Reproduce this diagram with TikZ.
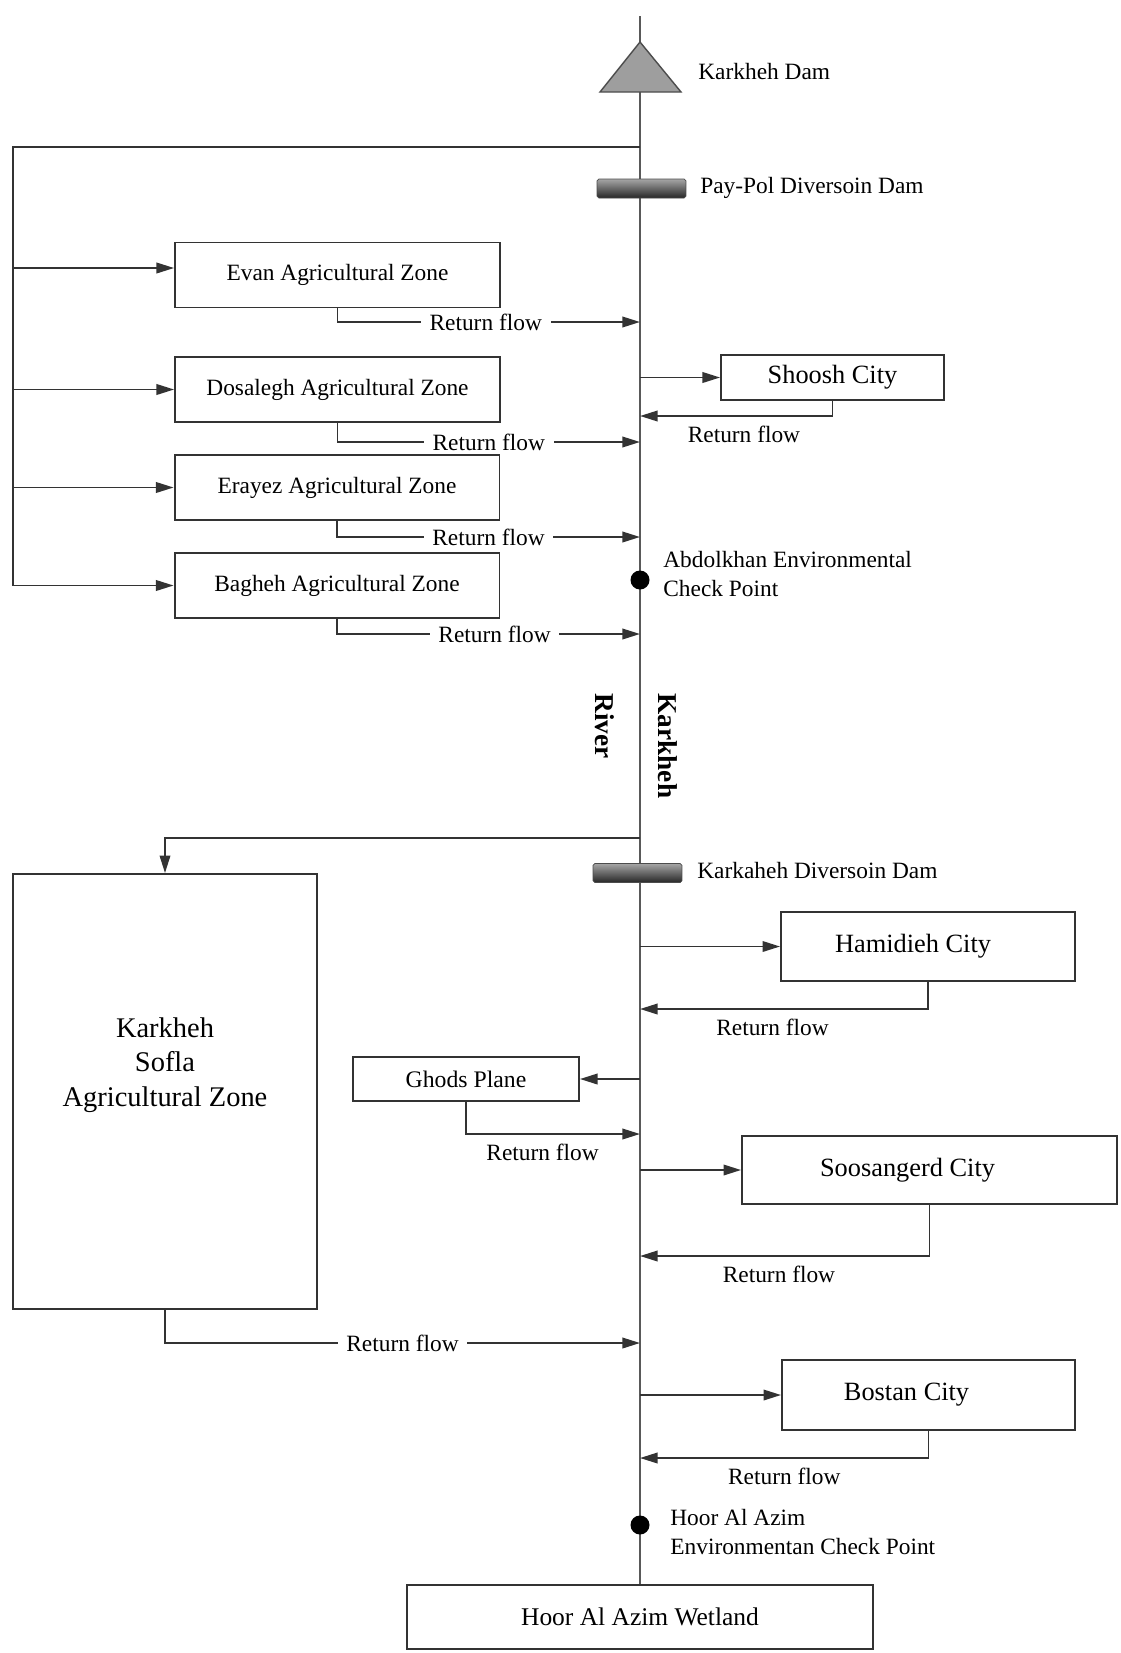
\documentclass[tikz,border=0pt]{standalone}
\usepackage{fontspec}
\setmainfont{Liberation Serif}
\usetikzlibrary{arrows.meta}

\begin{document}
\begin{tikzpicture}[x=0.02cm,y=-0.02cm]
\tikzstyle{every node}=[text=black,font=\fontsize{13.3}{16}\selectfont];
\tikzstyle{zone}=[draw=black!80,line width=1.1pt,minimum width=6.5cm,minimum height=1.3cm];
\tikzstyle{city}=[draw=black!80,line width=1.1pt,font=\fontsize{15}{18}\selectfont];
\tikzstyle{link}=[black!80,line width=1.1pt];
\tikzstyle{flow}=[link,-{Triangle[length=10pt,width=6pt]}];
\tikzstyle{river}=[black!65,line width=1.5pt];
\tikzstyle{rflow}=[fill=white,inner xsep=5pt,inner ysep=1pt];
\tikzstyle{rbelow}=[below=2pt];
\tikzstyle{lbl}=[anchor=west,inner sep=0pt,align=left];
\tikzstyle{dam}=[draw=black!70,top color=black!35,bottom color=black!85,minimum width=1.78cm,minimum height=0.38cm,rounded corners=1pt];
\tikzstyle{chk}=[circle,fill=black,inner sep=0pt,minimum size=0.38cm];
\useasboundingbox (0,0) rectangle (1120,1653);

% river and the points where flows meet it
\coordinate (src) at (640,16);
\coordinate (mouth) at (640,1585);
\coordinate (rv) at (640,0);
\coordinate (trunk) at (13,147);
\coordinate (jtop) at (640,147);
\coordinate (jevan) at (640,322);
\coordinate (jshoosh) at (640,416);
\coordinate (jdosa) at (640,442);
\coordinate (jeray) at (640,537);
\coordinate (jbagh) at (640,634);
\coordinate (jsofla) at (640,838);
\coordinate (jhamid) at (640,1009);
\coordinate (jghods) at (640,1134);
\coordinate (jsoos) at (640,1256);
\coordinate (jsoflaret) at (640,1343);
\coordinate (jbostan) at (640,1458);
\draw[river] (src) -- (mouth);

% dams and check points
\draw[black!70,fill=black!38,line width=0.8pt] (600,92) -- (640,42) -- (681,92) -- cycle;
\node[lbl] (karkhehdam) at (698,72) {Karkheh Dam};
\node[dam] (paypol) at (641.5,188.5) {};
\node[lbl] (paypoltxt) at (700,188) {Pay-Pol Diversoin Dam};
\node[dam] (karkaheh) at (637.5,873) {};
\node[lbl] (karkahehtxt) at (697,870) {Karkaheh Diversoin Dam};
\node[chk] (abdol) at (640,580) {};
\node[lbl] (abdoltxt) at (663,574) {Abdolkhan Environmental\\Check Point};
\node[chk] (hoorchk) at (640,1525) {};
\node[lbl] (hoortxt) at (670,1532) {Hoor Al Azim\\Environmentan Check Point};
\node[rotate=-90,font=\bfseries\fontsize{15.5}{18}\selectfont] (rname1) at (668,746) {Karkheh};
\node[rotate=-90,font=\bfseries\fontsize{15.5}{18}\selectfont] (rname2) at (605,726) {River};

% agricultural zones upstream
\node[zone] (evan) at (337.5,275) {Evan Agricultural Zone};
\node[zone] (dosa) at (337.5,389.5) {Dosalegh Agricultural Zone};
\node[zone] (eray) at (337,487.5) {Erayez Agricultural Zone};
\node[zone] (bagh) at (337,585.5) {Bagheh Agricultural Zone};
\node[city,minimum width=4.46cm,minimum height=0.9cm] (shoosh) at (832.5,377.5) {Shoosh City};

% downstream users
\node[draw=black!80,line width=1.1pt,minimum width=6.08cm,minimum height=8.7cm] (sofla) at (165,1091.5) {};
\node[align=center,font=\fontsize{16.2}{19.8}\selectfont] (soflatxt) at (165,1065) {Karkheh\\Sofla\\Agricultural Zone};
\node[city,minimum width=5.88cm,minimum height=1.38cm] (hamid) at (928,946.5) {Hamidieh City\hspace*{17pt}};
\node[draw=black!80,line width=1.1pt,minimum width=4.52cm,minimum height=0.88cm,
  font=\fontsize{13.5}{16}\selectfont] (ghods) at (466,1079) {Ghods Plane};
\node[city,minimum width=7.5cm,minimum height=1.36cm] (soos) at (929.5,1170) {Soosangerd City\hspace*{25pt}};
\node[city,minimum width=5.86cm,minimum height=1.4cm] (bostan) at (928.5,1395) {Bostan City\hspace*{25pt}};
\node[city,minimum width=9.32cm,minimum height=1.28cm,font=\fontsize{14.5}{17}\selectfont] (wetland) at (640,1617) {Hoor Al Azim Wetland};

% intakes
\draw[link] (jtop) -| (bagh.west -| trunk);
\draw[flow] ([yshift=0.14cm]evan.west -| trunk) -- ([yshift=0.14cm]evan.west);
\draw[flow] (dosa.west -| trunk) -- (dosa.west);
\draw[flow] (eray.west -| trunk) -- (eray.west);
\draw[flow] (bagh.west -| trunk) -- (bagh.west);
\draw[flow] (shoosh.west -| rv) -- (shoosh.west);
\draw[flow] (jsofla) -| (sofla.north);
\draw[flow] (hamid.west -| rv) -- (hamid.west);
\draw[flow] (ghods.east -| rv) -- (ghods.east);
\draw[flow] (soos.west -| rv) -- (soos.west);
\draw[flow] (bostan.west -| rv) -- (bostan.west);

% return flows
\draw[flow] (evan.south) |- node[rflow,pos=0.745] {Return flow} (jevan);
\draw[flow] (dosa.south) |- node[rflow,pos=0.75] {Return flow} (jdosa);
\draw[flow] (eray.south) |- node[rflow,pos=0.75] {Return flow} (jeray);
\draw[flow] (bagh.south) |- node[rflow,pos=0.76] {Return flow} (jbagh);
\draw[flow] (shoosh.south) |- node[rbelow,pos=0.73] {Return flow} (jshoosh);
\draw[flow] (hamid.south) |- node[rbelow,pos=0.77] {Return flow} (jhamid);
\draw[flow] (ghods.south) |- node[rbelow,pos=0.72] {Return flow} (jghods);
\draw[flow] (soos.south) |- node[rbelow,pos=0.76] {Return flow} (jsoos);
\draw[flow] (sofla.south) |- node[rflow,pos=0.75] {Return flow} (jsoflaret);
\draw[flow] (bostan.south) |- node[rbelow,pos=0.75] {Return flow} (jbostan);
\end{tikzpicture}
\end{document}
